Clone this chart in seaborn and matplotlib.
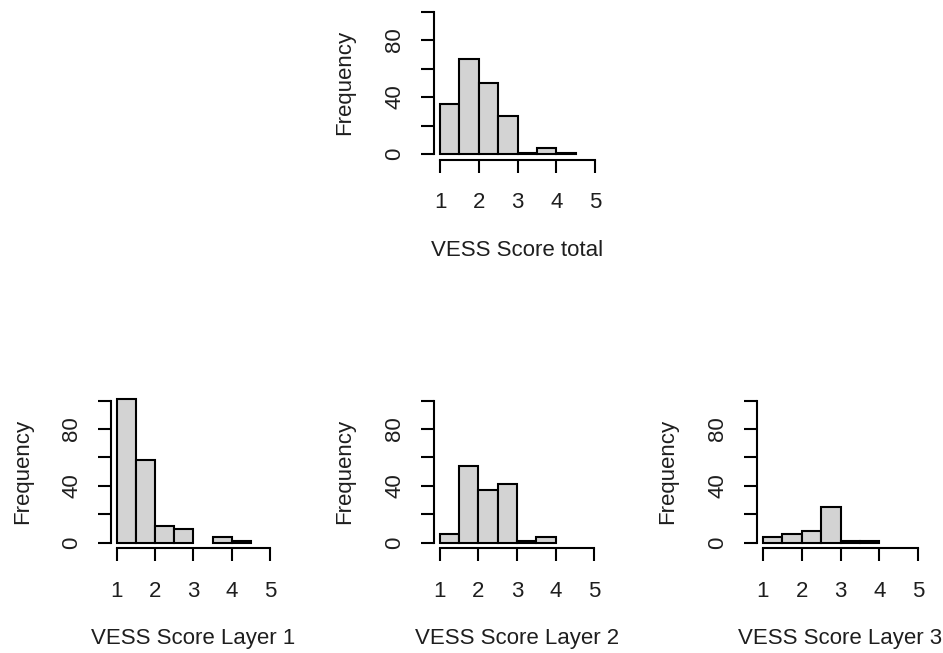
import numpy as np
import pandas as pd
import matplotlib
matplotlib.use("Agg")
import matplotlib.pyplot as plt
import seaborn as sns

# Data (bin counts)
edges_total = [1.0, 1.5, 2.0, 2.5, 3.0, 3.5, 4.0, 4.5]
counts_total = [35, 67, 50, 27, 1, 4, 1]

edges_layer1 = [1.0, 1.5, 2.0, 2.5, 3.0, 3.5, 4.0, 4.5]
counts_layer1 = [101, 58, 12, 10, 0, 4, 1]

edges_layer2 = [1.0, 1.5, 2.0, 2.5, 3.0, 3.5, 4.0]
counts_layer2 = [6, 54, 37, 41, 1, 4]

edges_layer3 = [1.0, 1.5, 2.0, 2.5, 3.0, 3.5, 4.0]
counts_layer3 = [4, 6, 8, 25, 1, 1]

x_labels = ["VESS Score total", "VESS Score Layer 1", "VESS Score Layer 2", "VESS Score Layer 3"]
x_ticks = [1, 2, 3, 4, 5]
y_ticks = [0, 20, 40, 60, 80, 100]
y_ticklabels = ["0", "", "40", "", "80", ""]

sns.set_style("white")
plt.rcParams["font.family"] = ["Liberation Sans", "DejaVu Sans"]
TXT = "#1e1e1e"

fig = plt.figure(figsize=(9.43, 6.53), dpi=100)

W, H = 943.0, 653.0
def axes_px(left, right, top, bottom):
    return [left / W, 1 - bottom / H, (right - left) / W, (bottom - top) / H]

positions = [
    axes_px(433.8, 601.2, 5.8, 159.7),
    axes_px(110.6, 276.1, 395.0, 548.4),
    axes_px(433.8, 600.2, 395.0, 548.4),
    axes_px(756.8, 924.2, 395.0, 548.4),
]
datasets = [
    (edges_total, counts_total),
    (edges_layer1, counts_layer1),
    (edges_layer2, counts_layer2),
    (edges_layer3, counts_layer3),
]

for pos, (edges, counts), xl in zip(positions, datasets, x_labels):
    ax = fig.add_axes(pos)
    centers = [(a + b) / 2 for a, b in zip(edges[:-1], edges[1:])]
    df = pd.DataFrame({"x": centers, "w": counts})
    sns.histplot(data=df, x="x", weights="w", bins=edges, ax=ax,
                 color="#d3d3d3", edgecolor="black", linewidth=1.5, alpha=1.0)
    for p in ax.patches:
        if p.get_height() == 0:
            p.set_visible(False)
    ax.set_xlim(0.84, 5.16)
    ax.set_ylim(-4, 104)
    for s in ["top", "right"]:
        ax.spines[s].set_visible(False)
    ax.spines["left"].set_bounds(0, 100)
    ax.spines["bottom"].set_bounds(1, 5)
    for s in ["left", "bottom"]:
        ax.spines[s].set_linewidth(1.5)
        ax.spines[s].set_color("black")
    ax.set_xticks(x_ticks)
    ax.set_xticklabels([str(t) for t in x_ticks])
    ax.set_yticks(y_ticks)
    ax.set_yticklabels(y_ticklabels, rotation=90, va="center")
    ax.tick_params(axis="both", direction="out", length=9.5, width=1.5,
                   color="black", labelsize=16, labelcolor=TXT,
                   bottom=True, left=True)
    ax.tick_params(axis="x", pad=14)
    ax.tick_params(axis="y", pad=11)
    ax.set_xlabel(xl, fontsize=16, color=TXT)
    ax.set_ylabel("Frequency", fontsize=16, color=TXT)
    ax.xaxis.set_label_coords(0.5, -0.52)
    ax.xaxis.label.set_va("top")
    ax.yaxis.set_label_coords(-0.47, 0.5)
    ax.grid(False)

fig.savefig("out.png", dpi=100, facecolor="white")
